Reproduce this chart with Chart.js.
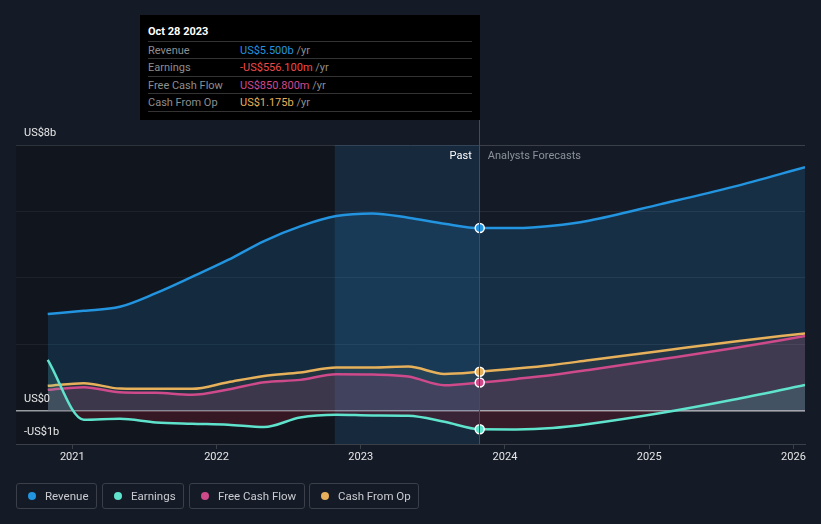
<!DOCTYPE html>
<html>
<head>
<meta charset="utf-8">
<script src="https://cdn.jsdelivr.net/npm/chart.js@4.4.0/dist/chart.umd.min.js"></script>
<style>
  body { margin: 0; background: #151b26; font-family: Roboto, "Noto Sans", sans-serif; }
  #wrap { position: relative; width: 821px; height: 524px; }
  #tip { position: absolute; left: 140px; top: 15px; width: 340px; height: 105px; background: #000; font-size: 11px; }
  #tip .head { position: absolute; left: 8px; top: 10px; color: #fff; font-weight: bold; font-size: 11px; }
  #tip .row { position: absolute; left: 8px; width: 324px; height: 17px; border-top: 1px solid #333; line-height: 17px; color: #8e8e8e; }
  #tip .row span.v { position: absolute; left: 92px; }
  #tip .row span.u { color: #8e8e8e; }
  #tip .last { position: absolute; left: 8px; width: 324px; border-top: 1px solid #333; }
  .leg { position: absolute; top: 483px; height: 26px; border: 1px solid #3a3f49; border-radius: 3px; box-sizing: border-box;
         color: #c9cbd0; font-size: 11.5px; line-height: 24px; padding-left: 28px; }
  .leg i { position: absolute; left: 11px; top: 8px; width: 8px; height: 8px; border-radius: 50%; }
</style>
</head>
<body>
<div id="wrap">
  <canvas id="myChart" width="821" height="524"></canvas>
  <div id="tip">
    <div class="head">Oct 28 2023</div>
    <div class="row" style="top:26px">Revenue<span class="v"><span style="color:#2394df">US$5.500b</span> <span class="u">/yr</span></span></div>
    <div class="row" style="top:43px">Earnings<span class="v"><span style="color:#f04a4a">-US$556.100m</span> <span class="u">/yr</span></span></div>
    <div class="row" style="top:61px">Free Cash Flow<span class="v"><span style="color:#d2488f">US$850.800m</span> <span class="u">/yr</span></span></div>
    <div class="row" style="top:78px">Cash From Op<span class="v"><span style="color:#e8b058">US$1.175b</span> <span class="u">/yr</span></span></div>
    <div class="last" style="top:96px"></div>
  </div>
  <div class="leg" style="left:16px;width:81px"><i style="background:#2394df"></i>Revenue</div>
  <div class="leg" style="left:102px;width:82px"><i style="background:#5fe3cc"></i>Earnings</div>
  <div class="leg" style="left:189px;width:116px"><i style="background:#cf4a8b"></i>Free Cash Flow</div>
  <div class="leg" style="left:309px;width:110px"><i style="background:#e7b05a"></i>Cash From Op</div>
</div>
<script>
// decimal years, past quarters then analyst forecasts
const dates = [2020.83, 2021.08, 2021.33, 2021.58, 2021.83, 2022.08, 2022.33, 2022.58, 2022.83, 2023.08, 2023.33, 2023.58, 2023.825,
               2024.08, 2024.33, 2024.58, 2025.08, 2025.58, 2026.08];
// US$ billions
const revenue  = [2.91, 3.01, 3.13, 3.54, 4.03, 4.54, 5.11, 5.55, 5.86, 5.94, 5.81, 5.63, 5.50, 5.50, 5.57, 5.72, 6.22, 6.74, 7.33];
const earnings = [1.53, -0.27, -0.24, -0.35, -0.39, -0.42, -0.49, -0.20, -0.12, -0.14, -0.15, -0.33, -0.556, -0.56, -0.52, -0.40, -0.07, 0.33, 0.78];
const fcf      = [0.63, 0.71, 0.56, 0.54, 0.48, 0.64, 0.86, 0.93, 1.10, 1.09, 1.03, 0.77, 0.851, 0.96, 1.08, 1.23, 1.55, 1.88, 2.25];
const cfo      = [0.75, 0.83, 0.67, 0.66, 0.66, 0.86, 1.05, 1.15, 1.30, 1.30, 1.33, 1.11, 1.175, 1.27, 1.38, 1.52, 1.80, 2.08, 2.33];
const yearTicks = [2021, 2022, 2023, 2024, 2025, 2026];
const yGrid = [-1, 0, 2, 4, 6, 8];
const yLabels = [[8, 'US$8b'], [0, 'US$0'], [-1, '-US$1b']];
const nowIdx = 12;
const bandStart = 2022.82;

function pts(vals) {
    return vals.map((v, i) => ({x: dates[i], y: v}));
}

function series(label, vals, color, fill, order) {
    return {
        label: label,
        data: pts(vals),
        borderColor: color,
        borderWidth: 2.5,
        fill: fill,
        cubicInterpolationMode: 'monotone',
        pointRadius: c => c.dataIndex === nowIdx ? 4.5 : 0,
        pointBackgroundColor: color,
        pointBorderColor: '#fff',
        pointBorderWidth: 1.5,
        order: order
    };
}

const bgPlugin = {
    id: 'bg',
    beforeDatasetsDraw(chart) {
        const ctx = chart.ctx, a = chart.chartArea, x = chart.scales.x;
        const xb = x.getPixelForValue(bandStart), xn = x.getPixelForValue(dates[nowIdx]);
        ctx.save();
        ctx.fillStyle = 'rgba(0,0,0,0.2)';
        ctx.fillRect(a.left, a.top, xb - a.left, a.bottom - a.top);
        ctx.fillStyle = 'rgba(30,90,140,0.22)';
        ctx.fillRect(xb, a.top, xn - xb, a.bottom - a.top);
        ctx.restore();
    },
    afterDraw(chart) {
        const ctx = chart.ctx, a = chart.chartArea, x = chart.scales.x, y = chart.scales.y;
        const xn = x.getPixelForValue(dates[nowIdx]);
        ctx.save();
        ctx.strokeStyle = '#34506a';
        ctx.lineWidth = 1;
        ctx.beginPath();
        ctx.moveTo(Math.floor(xn) + 0.5, 120);
        ctx.lineTo(Math.floor(xn) + 0.5, a.bottom);
        ctx.stroke();
        ctx.font = '11px Roboto';
        ctx.textBaseline = 'middle';
        ctx.fillStyle = '#ffffff';
        ctx.textAlign = 'right';
        ctx.fillText('Past', xn - 8, a.top + 11);
        ctx.fillStyle = '#8c9199';
        ctx.textAlign = 'left';
        ctx.fillText('Analysts Forecasts', xn + 8, a.top + 11);
        ctx.fillStyle = '#e8e8e8';
        yLabels.forEach(l => ctx.fillText(l[1], 24, y.getPixelForValue(l[0]) - 12));
        ctx.restore();
    }
};

const ctx = document.getElementById('myChart').getContext('2d');
const myChart = new Chart(ctx, {
    type: 'line',
    data: {
        datasets: [
            series('Revenue', revenue, '#2394df', {target: 'origin', above: 'rgba(35,148,223,0.17)'}, 4),
            series('Earnings', earnings, '#5fe3cc', {target: 'origin', above: 'rgba(95,227,204,0.14)', below: 'rgba(140,30,45,0.3)'}, 1),
            series('Free Cash Flow', fcf, '#cf4a8b', {target: 'origin', above: 'rgba(207,74,139,0.16)'}, 2),
            series('Cash From Op', cfo, '#e7b05a', {target: 'origin', above: 'rgba(231,176,90,0.07)'}, 3)
        ]
    },
    options: {
        responsive: false,
        devicePixelRatio: 1,
        animation: false,
        events: [],
        layout: {padding: {left: 16, right: 16, top: 145, bottom: 0}},
        plugins: {legend: {display: false}, tooltip: {enabled: false}},
        scales: {
            x: {
                type: 'linear',
                min: 2020.61,
                max: 2026.08,
                afterFit: s => { s.height = 80; },
                afterBuildTicks: s => { s.ticks = yearTicks.map(v => ({value: v})); },
                ticks: {color: '#e6e6e6', font: {family: 'Roboto', size: 11}, padding: 2, callback: v => String(v), maxRotation: 0},
                grid: {drawOnChartArea: false, drawTicks: true, tickLength: 5, color: '#3a3f48'},
                border: {display: true, color: '#3a3f48'}
            },
            y: {
                min: -1,
                max: 8,
                afterFit: s => { s.width = 0; },
                afterBuildTicks: s => { s.ticks = yGrid.map(v => ({value: v})); },
                ticks: {display: false},
                grid: {
                    drawTicks: false,
                    color: c => c.tick.value === 0 ? '#bfc3c8' : (c.tick.value === 8 || c.tick.value === -1 ? '#3a3f48' : '#262c36'),
                    lineWidth: c => c.tick.value === 0 ? 1.5 : 1
                },
                border: {display: false}
            }
        }
    },
    plugins: [bgPlugin]
});
</script>
</body>
</html>
